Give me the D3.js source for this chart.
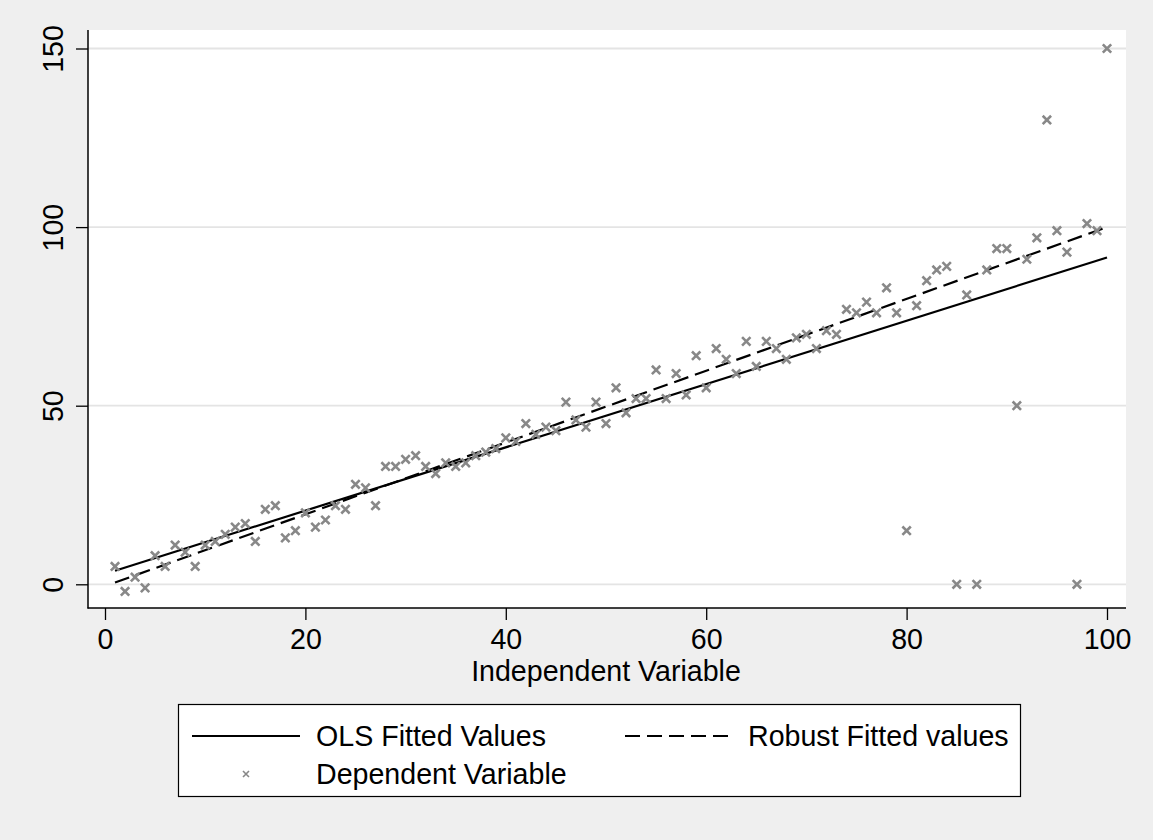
<!DOCTYPE html>
<html>
<head>
<meta charset="utf-8">
<script src="https://cdn.jsdelivr.net/npm/d3@7"></script>
<style>
  html, body { margin: 0; padding: 0; background: #efefef; }
  text { font-family: "Liberation Sans", Arial, sans-serif; fill: #000; }
</style>
</head>
<body>
<div id="chart"></div>
<script>
const xValues = [1,2,3,4,5,6,7,8,9,10,11,12,13,14,15,16,17,18,19,20,
  21,22,23,24,25,26,27,28,29,30,31,32,33,34,35,36,37,38,39,40,
  41,42,43,44,45,46,47,48,49,50,51,52,53,54,55,56,57,58,59,60,
  61,62,63,64,65,66,67,68,69,70,71,72,73,74,75,76,77,78,79,80,
  81,82,83,84,85,86,87,88,89,90,91,92,93,94,95,96,97,98,99,100];
const yValues = [5,-2,2,-1,8,5,11,9,5,11,12,14,16,17,12,21,22,13,15,20,
  16,18,22,21,28,27,22,33,33,35,36,33,31,34,33,34,36,37,38,41,
  40,45,42,44,43,51,46,44,51,45,55,48,52,52,60,52,59,53,64,55,
  66,63,59,68,61,68,66,63,69,70,66,71,70,77,76,79,76,83,76,15,
  78,85,88,89,0,81,0,88,94,94,50,91,97,130,99,93,0,101,99,150];

// fitted lines (end points)
const olsX = [1, 100];
const olsY = [3.8, 91.5];
const robustX = [1, 100];
const robustY = [0.5, 100];

const xTicks = [0, 20, 40, 60, 80, 100];
const yTicks = [0, 50, 100, 150];

const xTitle = "Independent Variable";
const legendLabels = ["OLS Fitted Values", "Robust Fitted values", "Dependent Variable"];

const width = 1153, height = 840;
const plot = {left: 88, right: 1126, top: 30, bottom: 608};
const fontSize = 28.6;
const markerColor = "#888";
const gridColor = "#e4e4e4";

const svg = d3.select("#chart").append("svg")
    .attr("width", width)
    .attr("height", height);

svg.append("rect")
    .attr("width", width).attr("height", height)
    .attr("fill", "#efefef");

const x = d3.scaleLinear().domain([0, 100]).range([105, 1107]);
const y = d3.scaleLinear().domain([0, 150]).range([584.3, 48.5]);

// plot region
svg.append("rect")
    .attr("x", plot.left).attr("y", plot.top)
    .attr("width", plot.right - plot.left)
    .attr("height", plot.bottom - plot.top)
    .attr("fill", "#fff");

// grid lines
svg.append("g").selectAll("line")
    .data(yTicks)
    .join("line")
    .attr("x1", plot.left).attr("x2", plot.right)
    .attr("y1", d => y(d)).attr("y2", d => y(d))
    .attr("stroke", gridColor)
    .attr("stroke-width", 1.8);

// x axis
const xAxis = svg.append("g")
    .attr("transform", `translate(0,${plot.bottom})`)
    .call(d3.axisBottom(x).tickValues(xTicks).tickSize(12).tickPadding(9));
xAxis.select(".domain").remove();
xAxis.selectAll(".tick line").attr("stroke", "#000").attr("stroke-width", 1.3);
xAxis.selectAll(".tick text")
    .attr("font-size", fontSize)
    .attr("font-family", "Liberation Sans, Arial, sans-serif");

svg.append("line")
    .attr("x1", plot.left - 0.5).attr("x2", plot.right)
    .attr("y1", plot.bottom).attr("y2", plot.bottom)
    .attr("stroke", "#000").attr("stroke-width", 1.5);

// y axis
const yAxis = svg.append("g")
    .attr("transform", `translate(${plot.left},0)`)
    .call(d3.axisLeft(y).tickValues(yTicks).tickSize(12));
yAxis.select(".domain").remove();
yAxis.selectAll(".tick line").attr("stroke", "#000").attr("stroke-width", 1.3);
yAxis.selectAll(".tick text").remove();
yAxis.selectAll(".tick").append("text")
    .attr("transform", "translate(-25,0) rotate(-90)")
    .attr("text-anchor", "middle")
    .attr("font-size", fontSize)
    .attr("font-family", "Liberation Sans, Arial, sans-serif")
    .attr("fill", "#000")
    .text(d => d);

svg.append("line")
    .attr("x1", plot.left).attr("x2", plot.left)
    .attr("y1", plot.top).attr("y2", plot.bottom + 0.5)
    .attr("stroke", "#000").attr("stroke-width", 1.5);

// axis title
svg.append("text")
    .attr("x", (x(0) + x(100)) / 2)
    .attr("y", 681)
    .attr("text-anchor", "middle")
    .attr("font-size", fontSize)
    .text(xTitle);

// fitted lines
const lineGen = d3.line()
    .x(d => x(d[0]))
    .y(d => y(d[1]));

svg.append("path")
    .datum(d3.zip(olsX, olsY))
    .attr("d", lineGen)
    .attr("fill", "none")
    .attr("stroke", "#000")
    .attr("stroke-width", 2.2);

svg.append("path")
    .datum(d3.zip(robustX, robustY))
    .attr("d", lineGen)
    .attr("fill", "none")
    .attr("stroke", "#000")
    .attr("stroke-width", 2.2)
    .attr("stroke-dasharray", "15,7");

// scatter markers (x symbol)
function crossPath(s) {
    return `M${-s},${-s}L${s},${s}M${-s},${s}L${s},${-s}`;
}

svg.append("g").selectAll("path")
    .data(d3.zip(xValues, yValues))
    .join("path")
    .attr("transform", d => `translate(${x(d[0])},${y(d[1])})`)
    .attr("d", crossPath(4.2))
    .attr("stroke", markerColor)
    .attr("stroke-width", 2.6)
    .attr("fill", "none");

// legend
const legend = svg.append("g");
legend.append("rect")
    .attr("x", 178.5).attr("y", 704.5)
    .attr("width", 842).attr("height", 92)
    .attr("fill", "#fff")
    .attr("stroke", "#000")
    .attr("stroke-width", 1.2);

const row1 = 736, row2 = 774;

legend.append("line")
    .attr("x1", 192).attr("x2", 300)
    .attr("y1", row1).attr("y2", row1)
    .attr("stroke", "#000").attr("stroke-width", 2.2);
legend.append("text")
    .attr("x", 316).attr("y", row1 + 10)
    .attr("font-size", fontSize)
    .text(legendLabels[0]);

legend.append("line")
    .attr("x1", 625).attr("x2", 732)
    .attr("y1", row1).attr("y2", row1)
    .attr("stroke", "#000").attr("stroke-width", 2.2)
    .attr("stroke-dasharray", "15,7");
legend.append("text")
    .attr("x", 748).attr("y", row1 + 10)
    .attr("font-size", fontSize)
    .text(legendLabels[1]);

legend.append("path")
    .attr("transform", `translate(246,${row2})`)
    .attr("d", crossPath(3))
    .attr("stroke", markerColor)
    .attr("stroke-width", 1.6)
    .attr("fill", "none");
legend.append("text")
    .attr("x", 316).attr("y", row2 + 10)
    .attr("font-size", fontSize)
    .text(legendLabels[2]);
</script>
</body>
</html>
